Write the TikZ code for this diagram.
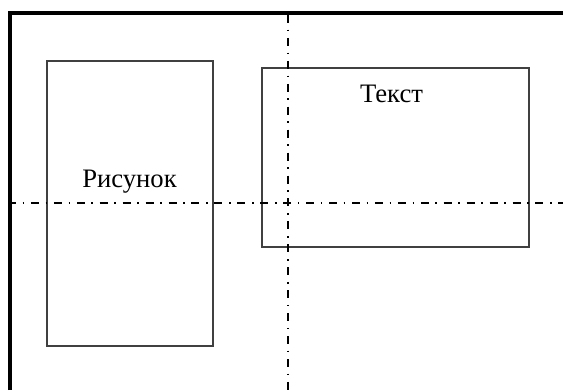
\documentclass[tikz,border=0pt]{standalone}
\usepackage{fontspec}
\setmainfont{Liberation Serif}
\definecolor{boxgray}{HTML}{404040}
\tikzset{
  framebox/.style={draw=boxgray, line width=1.1pt, minimum width=166*0.75pt, minimum height=285*0.75pt, inner sep=0pt},
  axisline/.style={draw=black, line width=1pt, dash pattern=on 6pt off 5pt on 1.2pt off 5pt},
  label/.style={font=\fontsize{20}{24}\selectfont, anchor=base, inner sep=0pt},
}
\begin{document}
\begin{tikzpicture}[x=0.75pt,y=-0.75pt]
\useasboundingbox (0,0) rectangle (563,390);
\fill[white] (0,0) rectangle (563,390);
% outer frame
\coordinate (fbl) at (9.7,390);
\coordinate (ftl) at (9.7,13.3);
\coordinate (ftr) at (563,13.3);
\draw[line width=3pt] (fbl) -- (ftl) -- (ftr);
% boxes
\node[framebox] (pic) at (130,203.5) {};
\node[framebox, minimum width=267*0.75pt, minimum height=179*0.75pt] (txt) at (395.5,157.5) {};
% labels
\node[label] (piclabel) at (129.5,187) {Рисунок};
\node[label] (txtlabel) at (391.5,102) {Текст};
% axes
\coordinate (vt) at (288,15);
\coordinate (vb) at (288,390);
\coordinate (hl) at (8,203);
\coordinate (hr) at (563,203);
\draw[axisline] (vt) -- (vb);
\draw[axisline] (hl) -- (hr);
\end{tikzpicture}
\end{document}
